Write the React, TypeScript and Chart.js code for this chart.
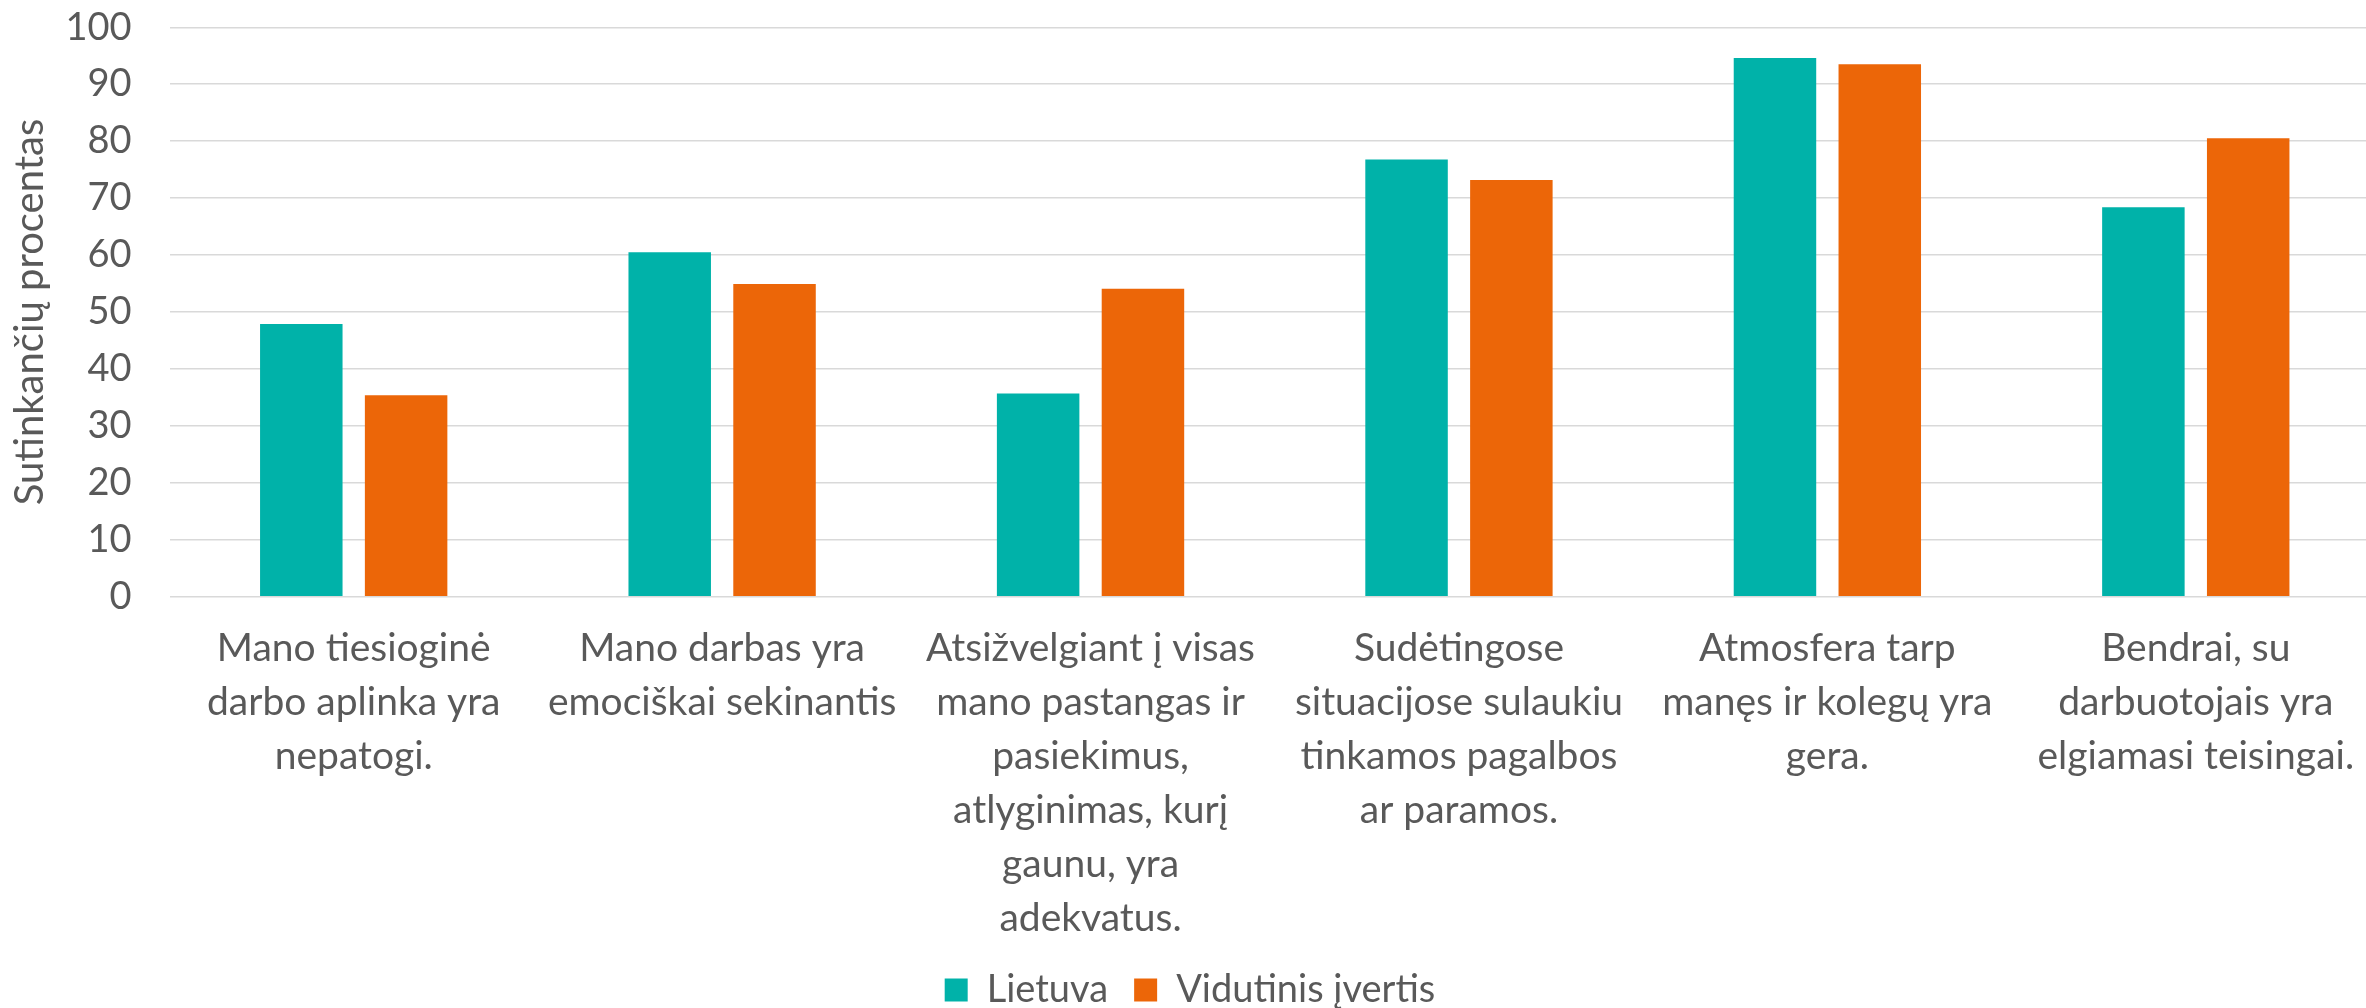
import React, { useEffect, useRef } from "react";
import { Chart, registerables } from "chart.js";

Chart.register(...registerables);

const categories: string[][] = [
  ["Mano tiesioginė", "darbo aplinka yra", "nepatogi."],
  ["Mano darbas yra", "emociškai sekinantis"],
  ["Atsižvelgiant į visas", "mano pastangas ir", "pasiekimus,", "atlyginimas, kurį", "gaunu, yra", "adekvatus."],
  ["Sudėtingose", "situacijose sulaukiu", "tinkamos pagalbos", "ar paramos."],
  ["Atmosfera tarp", "manęs ir kolegų yra", "gera."],
  ["Bendrai, su", "darbuotojais yra", "elgiamasi teisingai."],
];

const seriesNames = ["Lietuva", "Vidutinis įvertis"];
const lietuva = [47.9, 60.5, 35.7, 76.8, 94.6, 68.4];
const vidutinis = [35.4, 54.9, 54.1, 73.2, 93.5, 80.5];

const yTitle = "Sutinkančių procentas";
const yMin = 0;
const yMax = 100;
const yStep = 10;

const TEAL = "#00B2A9";
const ORANGE = "#EC6608";
const TEXT = "#595959";
const GRID = "#D9D9D9";
const FONT = "Lato";

const W = 2380;
const H = 1008;
const PLOT_LEFT = 169.5;
const PLOT_TOP = 27.3;
const PLOT_BOTTOM = 596.7;
const PAD_BOTTOM = -11;

export default function App() {
  const ref = useRef<HTMLCanvasElement | null>(null);

  useEffect(() => {
    document.documentElement.style.overflow = "hidden";
    document.body.style.overflow = "hidden";
    const canvas = ref.current;
    if (!canvas) return;
    const chart = new Chart(canvas, {
      type: "bar",
      data: {
        labels: categories,
        datasets: [
          {
            label: seriesNames[0],
            data: lietuva,
            backgroundColor: TEAL,
            categoryPercentage: 0.569,
            barPercentage: 0.787,
          },
          {
            label: seriesNames[1],
            data: vidutinis,
            backgroundColor: ORANGE,
            categoryPercentage: 0.569,
            barPercentage: 0.787,
          },
        ],
      },
      options: {
        responsive: false,
        animation: false,
        devicePixelRatio: 1,
        layout: { padding: { left: 0, right: 0, top: PLOT_TOP, bottom: PAD_BOTTOM } },
        plugins: {
          legend: {
            position: "bottom",
            labels: {
              color: TEXT,
              font: { family: FONT, size: 38 },
              boxWidth: 23,
              boxHeight: 23,
              padding: 26,
            },
          },
          tooltip: { enabled: false },
        },
        scales: {
          x: {
            grid: { display: false, drawTicks: false },
            border: { display: false },
            ticks: {
              color: TEXT,
              font: { family: FONT, size: 39, lineHeight: 54 / 39 },
              autoSkip: false,
              maxRotation: 0,
              minRotation: 0,
              padding: 25,
            },
            afterFit: (s: any) => {
              const lh = s.chart.legend ? s.chart.legend.height : 0;
              s.height = s.chart.height - PAD_BOTTOM - lh - PLOT_BOTTOM;
            },
          },
          y: {
            min: yMin,
            max: yMax,
            grid: { color: GRID, lineWidth: 1.6, drawTicks: false },
            border: { display: false },
            ticks: {
              stepSize: yStep,
              color: TEXT,
              font: { family: FONT, size: 38 },
              padding: 38,
            },
            title: {
              display: true,
              text: yTitle,
              color: TEXT,
              font: { family: FONT, size: 40 },
              padding: { top: 6, bottom: 4 },
            },
            afterFit: (s: any) => {
              s.width = PLOT_LEFT;
              s.paddingTop = 0;
              s.paddingBottom = 0;
            },
          },
        },
      },
    });
    return () => chart.destroy();
  }, []);

  return (
    <div style={{ position: "absolute", left: 0, top: 0, width: W, height: H }}>
      <canvas ref={ref} width={W} height={H} style={{ display: "block" }} />
    </div>
  );
}
